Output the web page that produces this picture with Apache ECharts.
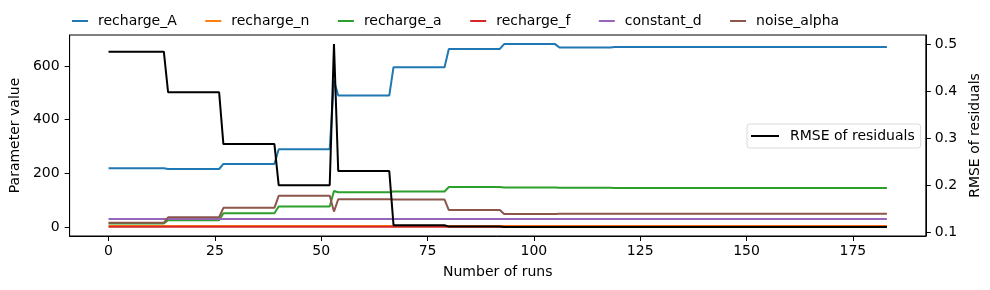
<!DOCTYPE html>
<html>
<head>
<meta charset="utf-8">
<script src="https://cdn.jsdelivr.net/npm/echarts@6/dist/echarts.min.js"></script>
<style>
  html, body { margin: 0; padding: 0; background: #fff; }
  #chart { width: 990px; height: 290px; }
</style>
</head>
<body>
<div id="chart"></div>
<script>
  // runs 0..183, one row per generation (first row has 14 runs, the spike at 53 alone)
  const runs = Array.from({length: 184}, (_, i) => i)

  const rechargeA = [
    219, 219, 219, 219, 219, 219, 219, 219, 219, 219, 219, 219, 219, 219,
    216, 216, 216, 216, 216, 216, 216, 216, 216, 216, 216, 216, 216,
    235, 235, 235, 235, 235, 235, 235, 235, 235, 235, 235, 235, 235,
    290, 290, 290, 290, 290, 290, 290, 290, 290, 290, 290, 290, 290,
    545,
    490, 490, 490, 490, 490, 490, 490, 490, 490, 490, 490, 490, 490,
    596, 596, 596, 596, 596, 596, 596, 596, 596, 596, 596, 596, 596,
    664, 664, 664, 664, 664, 664, 664, 664, 664, 664, 664, 664, 664,
    682, 682, 682, 682, 682, 682, 682, 682, 682, 682, 682, 682, 682,
    669, 669, 669, 669, 669, 669, 669, 669, 669, 669, 669, 669, 669,
    671, 671, 671, 671, 671, 671, 671, 671, 671, 671, 671, 671, 671,
    671, 671, 671, 671, 671, 671, 671, 671, 671, 671, 671, 671, 671,
    671, 671, 671, 671, 671, 671, 671, 671, 671, 671, 671, 671, 671,
    671, 671, 671, 671, 671, 671, 671, 671, 671, 671, 671, 671, 671,
    671, 671, 671, 671, 671, 671, 671, 671, 671, 671, 671, 671, 671
  ]

  const rechargeN = [
    3.5, 3.5, 3.5, 3.5, 3.5, 3.5, 3.5, 3.5, 3.5, 3.5, 3.5, 3.5, 3.5, 3.5,
    3.5, 3.5, 3.5, 3.5, 3.5, 3.5, 3.5, 3.5, 3.5, 3.5, 3.5, 3.5, 3.5,
    3.5, 3.5, 3.5, 3.5, 3.5, 3.5, 3.5, 3.5, 3.5, 3.5, 3.5, 3.5, 3.5,
    3.5, 3.5, 3.5, 3.5, 3.5, 3.5, 3.5, 3.5, 3.5, 3.5, 3.5, 3.5, 3.5,
    3.5,
    3.5, 3.5, 3.5, 3.5, 3.5, 3.5, 3.5, 3.5, 3.5, 3.5, 3.5, 3.5, 3.5,
    3.5, 3.5, 3.5, 3.5, 3.5, 3.5, 3.5, 3.5, 3.5, 3.5, 3.5, 3.5, 3.5,
    3.5, 3.5, 3.5, 3.5, 3.5, 3.5, 3.5, 3.5, 3.5, 3.5, 3.5, 3.5, 3.5,
    3.5, 3.5, 3.5, 3.5, 3.5, 3.5, 3.5, 3.5, 3.5, 3.5, 3.5, 3.5, 3.5,
    3.5, 3.5, 3.5, 3.5, 3.5, 3.5, 3.5, 3.5, 3.5, 3.5, 3.5, 3.5, 3.5,
    3.5, 3.5, 3.5, 3.5, 3.5, 3.5, 3.5, 3.5, 3.5, 3.5, 3.5, 3.5, 3.5,
    3.5, 3.5, 3.5, 3.5, 3.5, 3.5, 3.5, 3.5, 3.5, 3.5, 3.5, 3.5, 3.5,
    3.5, 3.5, 3.5, 3.5, 3.5, 3.5, 3.5, 3.5, 3.5, 3.5, 3.5, 3.5, 3.5,
    3.5, 3.5, 3.5, 3.5, 3.5, 3.5, 3.5, 3.5, 3.5, 3.5, 3.5, 3.5, 3.5,
    3.5, 3.5, 3.5, 3.5, 3.5, 3.5, 3.5, 3.5, 3.5, 3.5, 3.5, 3.5, 3.5
  ]

  const rechargeLowA = [
    13, 13, 13, 13, 13, 13, 13, 13, 13, 13, 13, 13, 13, 13,
    25, 25, 25, 25, 25, 25, 25, 25, 25, 25, 25, 25, 25,
    51, 51, 51, 51, 51, 51, 51, 51, 51, 51, 51, 51, 51,
    76, 76, 76, 76, 76, 76, 76, 76, 76, 76, 76, 76, 76,
    134,
    129, 129, 129, 129, 129, 129, 129, 129, 129, 129, 129, 129, 129,
    132, 132, 132, 132, 132, 132, 132, 132, 132, 132, 132, 132, 132,
    149, 149, 149, 149, 149, 149, 149, 149, 149, 149, 149, 149, 149,
    147, 147, 147, 147, 147, 147, 147, 147, 147, 147, 147, 147, 147,
    146, 146, 146, 146, 146, 146, 146, 146, 146, 146, 146, 146, 146,
    145, 145, 145, 145, 145, 145, 145, 145, 145, 145, 145, 145, 145,
    145, 145, 145, 145, 145, 145, 145, 145, 145, 145, 145, 145, 145,
    145, 145, 145, 145, 145, 145, 145, 145, 145, 145, 145, 145, 145,
    145, 145, 145, 145, 145, 145, 145, 145, 145, 145, 145, 145, 145,
    145, 145, 145, 145, 145, 145, 145, 145, 145, 145, 145, 145, 145
  ]

  const rechargeF = [
    0.8, 0.8, 0.8, 0.8, 0.8, 0.8, 0.8, 0.8, 0.8, 0.8, 0.8, 0.8, 0.8, 0.8,
    0.8, 0.8, 0.8, 0.8, 0.8, 0.8, 0.8, 0.8, 0.8, 0.8, 0.8, 0.8, 0.8,
    0.8, 0.8, 0.8, 0.8, 0.8, 0.8, 0.8, 0.8, 0.8, 0.8, 0.8, 0.8, 0.8,
    0.8, 0.8, 0.8, 0.8, 0.8, 0.8, 0.8, 0.8, 0.8, 0.8, 0.8, 0.8, 0.8,
    0.8,
    0.8, 0.8, 0.8, 0.8, 0.8, 0.8, 0.8, 0.8, 0.8, 0.8, 0.8, 0.8, 0.8,
    0.8, 0.8, 0.8, 0.8, 0.8, 0.8, 0.8, 0.8, 0.8, 0.8, 0.8, 0.8, 0.8,
    0.8, 0.8, 0.8, 0.8, 0.8, 0.8, 0.8, 0.8, 0.8, 0.8, 0.8, 0.8, 0.8,
    0.8, 0.8, 0.8, 0.8, 0.8, 0.8, 0.8, 0.8, 0.8, 0.8, 0.8, 0.8, 0.8,
    0.8, 0.8, 0.8, 0.8, 0.8, 0.8, 0.8, 0.8, 0.8, 0.8, 0.8, 0.8, 0.8,
    0.8, 0.8, 0.8, 0.8, 0.8, 0.8, 0.8, 0.8, 0.8, 0.8, 0.8, 0.8, 0.8,
    0.8, 0.8, 0.8, 0.8, 0.8, 0.8, 0.8, 0.8, 0.8, 0.8, 0.8, 0.8, 0.8,
    0.8, 0.8, 0.8, 0.8, 0.8, 0.8, 0.8, 0.8, 0.8, 0.8, 0.8, 0.8, 0.8,
    0.8, 0.8, 0.8, 0.8, 0.8, 0.8, 0.8, 0.8, 0.8, 0.8, 0.8, 0.8, 0.8,
    0.8, 0.8, 0.8, 0.8, 0.8, 0.8, 0.8, 0.8, 0.8, 0.8, 0.8, 0.8, 0.8
  ]

  const constantD = [
    29, 29, 29, 29, 29, 29, 29, 29, 29, 29, 29, 29, 29, 29,
    29, 29, 29, 29, 29, 29, 29, 29, 29, 29, 29, 29, 29,
    29, 29, 29, 29, 29, 29, 29, 29, 29, 29, 29, 29, 29,
    29, 29, 29, 29, 29, 29, 29, 29, 29, 29, 29, 29, 29,
    29,
    29, 29, 29, 29, 29, 29, 29, 29, 29, 29, 29, 29, 29,
    29, 29, 29, 29, 29, 29, 29, 29, 29, 29, 29, 29, 29,
    29, 29, 29, 29, 29, 29, 29, 29, 29, 29, 29, 29, 29,
    29, 29, 29, 29, 29, 29, 29, 29, 29, 29, 29, 29, 29,
    29, 29, 29, 29, 29, 29, 29, 29, 29, 29, 29, 29, 29,
    29, 29, 29, 29, 29, 29, 29, 29, 29, 29, 29, 29, 29,
    29, 29, 29, 29, 29, 29, 29, 29, 29, 29, 29, 29, 29,
    29, 29, 29, 29, 29, 29, 29, 29, 29, 29, 29, 29, 29,
    29, 29, 29, 29, 29, 29, 29, 29, 29, 29, 29, 29, 29,
    29, 29, 29, 29, 29, 29, 29, 29, 29, 29, 29, 29, 29
  ]

  const noiseAlpha = [
    15, 15, 15, 15, 15, 15, 15, 15, 15, 15, 15, 15, 15, 15,
    36, 36, 36, 36, 36, 36, 36, 36, 36, 36, 36, 36, 36,
    71, 71, 71, 71, 71, 71, 71, 71, 71, 71, 71, 71, 71,
    116, 116, 116, 116, 116, 116, 116, 116, 116, 116, 116, 116, 116,
    57,
    103, 103, 103, 103, 103, 103, 103, 103, 103, 103, 103, 103, 103,
    102, 102, 102, 102, 102, 102, 102, 102, 102, 102, 102, 102, 102,
    63, 63, 63, 63, 63, 63, 63, 63, 63, 63, 63, 63, 63,
    48, 48, 48, 48, 48, 48, 48, 48, 48, 48, 48, 48, 48,
    49, 49, 49, 49, 49, 49, 49, 49, 49, 49, 49, 49, 49,
    49, 49, 49, 49, 49, 49, 49, 49, 49, 49, 49, 49, 49,
    49, 49, 49, 49, 49, 49, 49, 49, 49, 49, 49, 49, 49,
    49, 49, 49, 49, 49, 49, 49, 49, 49, 49, 49, 49, 49,
    49, 49, 49, 49, 49, 49, 49, 49, 49, 49, 49, 49, 49,
    49, 49, 49, 49, 49, 49, 49, 49, 49, 49, 49, 49, 49
  ]

  const rmseResiduals = [
    0.484, 0.484, 0.484, 0.484, 0.484, 0.484, 0.484, 0.484, 0.484, 0.484, 0.484, 0.484, 0.484, 0.484,
    0.398, 0.398, 0.398, 0.398, 0.398, 0.398, 0.398, 0.398, 0.398, 0.398, 0.398, 0.398, 0.398,
    0.288, 0.288, 0.288, 0.288, 0.288, 0.288, 0.288, 0.288, 0.288, 0.288, 0.288, 0.288, 0.288,
    0.201, 0.201, 0.201, 0.201, 0.201, 0.201, 0.201, 0.201, 0.201, 0.201, 0.201, 0.201, 0.201,
    0.500,
    0.231, 0.231, 0.231, 0.231, 0.231, 0.231, 0.231, 0.231, 0.231, 0.231, 0.231, 0.231, 0.231,
    0.116, 0.116, 0.116, 0.116, 0.116, 0.116, 0.116, 0.116, 0.116, 0.116, 0.116, 0.116, 0.116,
    0.113, 0.113, 0.113, 0.113, 0.113, 0.113, 0.113, 0.113, 0.113, 0.113, 0.113, 0.113, 0.113,
    0.112, 0.112, 0.112, 0.112, 0.112, 0.112, 0.112, 0.112, 0.112, 0.112, 0.112, 0.112, 0.112,
    0.112, 0.112, 0.112, 0.112, 0.112, 0.112, 0.112, 0.112, 0.112, 0.112, 0.112, 0.112, 0.112,
    0.112, 0.112, 0.112, 0.112, 0.112, 0.112, 0.112, 0.112, 0.112, 0.112, 0.112, 0.112, 0.112,
    0.112, 0.112, 0.112, 0.112, 0.112, 0.112, 0.112, 0.112, 0.112, 0.112, 0.112, 0.112, 0.112,
    0.112, 0.112, 0.112, 0.112, 0.112, 0.112, 0.112, 0.112, 0.112, 0.112, 0.112, 0.112, 0.112,
    0.112, 0.112, 0.112, 0.112, 0.112, 0.112, 0.112, 0.112, 0.112, 0.112, 0.112, 0.112, 0.112,
    0.112, 0.112, 0.112, 0.112, 0.112, 0.112, 0.112, 0.112, 0.112, 0.112, 0.112, 0.112, 0.112
  ]

  const xTicks = [0, 25, 50, 75, 100, 125, 150, 175]
  const leftTicks = [0, 200, 400, 600]
  const rightTicks = [0.1, 0.2, 0.3, 0.4, 0.5]

  const paramNames = ['recharge_A', 'recharge_n', 'recharge_a', 'recharge_f', 'constant_d', 'noise_alpha']
  const paramValues = [rechargeA, rechargeN, rechargeLowA, rechargeF, constantD, noiseAlpha]
  const paramColors = ['#1f77b4', '#ff7f0e', '#2ca02c', '#d62728', '#9467bd', '#8c564b']

  paramValues.concat([rmseResiduals]).forEach(function (arr, i) {
    if (arr.length !== runs.length) throw new Error('series ' + i + ' has ' + arr.length + ' values')
  })

  const font = 'DejaVu Sans'
  const pair = arr => runs.map((x, i) => [x, arr[i]])

  const series = paramNames.map(function (name, i) {
    return {
      name: name,
      type: 'line',
      xAxisIndex: 0,
      yAxisIndex: 0,
      data: pair(paramValues[i]),
      showSymbol: false,
      symbol: 'none',
      color: paramColors[i],
      lineStyle: {width: 2, color: paramColors[i]},
      z: 2 + i
    }
  })
  series.push({
    name: 'RMSE of residuals',
    type: 'line',
    xAxisIndex: 0,
    yAxisIndex: 1,
    data: pair(rmseResiduals),
    showSymbol: false,
    symbol: 'none',
    color: '#000',
    lineStyle: {width: 2, color: '#000'},
    z: 10
  })

  const tickStyle = {show: true, length: 5, lineStyle: {color: '#000', width: 1}}
  const labelStyle = {color: '#000', fontFamily: font, fontSize: 14}
  const axisLine = {show: true, onZero: false, lineStyle: {color: '#000', width: 1}}

  const chart = echarts.init(document.getElementById('chart'), null, {renderer: 'canvas'})
  chart.setOption({
    animation: false,
    backgroundColor: '#fff',
    textStyle: {fontFamily: font},
    grid: {left: 67, right: 61, top: 35, bottom: 54, show: true, borderColor: '#000', borderWidth: 1, containLabel: false},
    legend: [
      {
        data: paramNames,
        left: 72,
        top: 14,
        orient: 'horizontal',
        icon: 'rect',
        itemWidth: 16,
        itemHeight: 2,
        itemGap: 28.5,
        padding: 0,
        textStyle: {color: '#000', fontFamily: font, fontSize: 14, padding: [0, 0, 0, 5]}
      },
      {
        data: ['RMSE of residuals'],
        left: 747,
        top: 124,
        icon: 'rect',
        itemWidth: 28,
        itemHeight: 2,
        padding: [5, 6, 5, 4],
        borderColor: '#d9d9d9',
        borderWidth: 1,
        borderRadius: 3,
        backgroundColor: 'rgba(255,255,255,0.8)',
        textStyle: {color: '#000', fontFamily: font, fontSize: 14, padding: [0, 0, 0, 6]}
      }
    ],
    xAxis: {
      type: 'value',
      min: -9.15,
      max: 192.15,
      name: 'Number of runs',
      nameLocation: 'middle',
      nameGap: 29,
      nameTextStyle: labelStyle,
      axisLine: axisLine,
      axisTick: Object.assign({customValues: xTicks}, tickStyle),
      axisLabel: Object.assign({customValues: xTicks, margin: 8}, labelStyle),
      splitLine: {show: false}
    },
    yAxis: [
      {
        type: 'value',
        min: -34,
        max: 716,
        position: 'left',
        name: 'Parameter value',
        nameLocation: 'middle',
        nameRotate: 90,
        nameGap: 39,
        nameTextStyle: labelStyle,
        axisLine: axisLine,
        axisTick: Object.assign({customValues: leftTicks}, tickStyle),
        axisLabel: Object.assign({customValues: leftTicks, margin: 10}, labelStyle),
        splitLine: {show: false}
      },
      {
        type: 'value',
        min: 0.0931,
        max: 0.5194,
        position: 'right',
        name: 'RMSE of residuals',
        nameLocation: 'middle',
        nameRotate: 90,
        nameGap: 38,
        nameTextStyle: labelStyle,
        axisLine: axisLine,
        axisTick: Object.assign({customValues: rightTicks}, tickStyle),
        axisLabel: Object.assign({customValues: rightTicks, margin: 9, formatter: v => v.toFixed(1)}, labelStyle),
        splitLine: {show: false}
      }
    ],
    series: series
  })
</script>
</body>
</html>
